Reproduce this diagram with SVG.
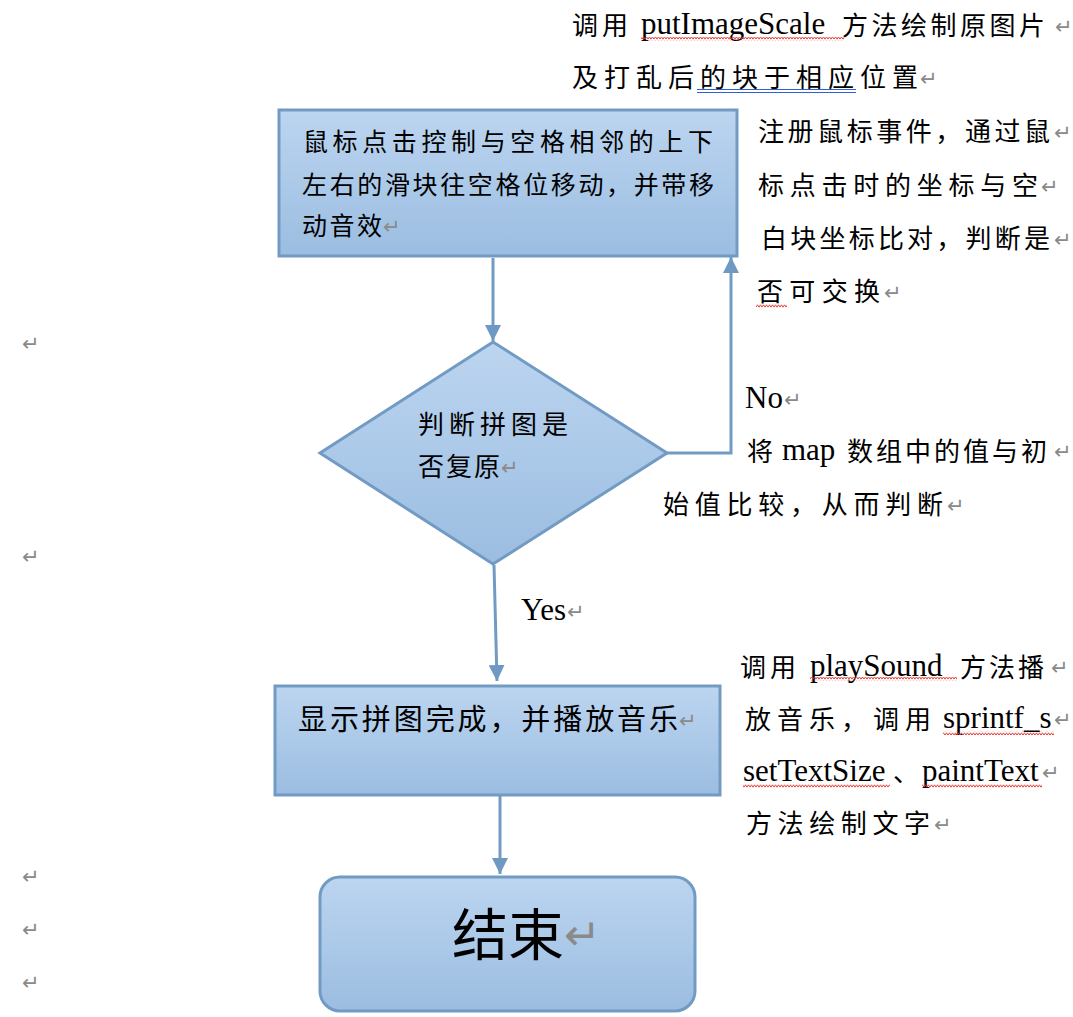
<svg xmlns="http://www.w3.org/2000/svg" width="1073" height="1017" viewBox="0 0 1073 1017">
<defs>
<linearGradient id="g" x1="0" y1="0" x2="0" y2="1">
<stop offset="0" stop-color="#bcd5f0"/>
<stop offset="1" stop-color="#9bbde1"/>
</linearGradient>
<marker id="ah" markerUnits="userSpaceOnUse" markerWidth="16" markerHeight="16" viewBox="0 0 16 16" refX="16" refY="8" orient="auto">
<path d="M0,0 L16,8 L0,16 Z" fill="#6f98c2"/>
</marker>
<pattern id="wave" width="6" height="4" patternUnits="userSpaceOnUse">
<path d="M0,3.2 L1.5,0.8 L3,3.2 L4.5,0.8 L6,3.2" fill="none" stroke="#e8302a" stroke-width="0.9"/>
</pattern>
</defs>
<style>
.shape{fill:url(#g);stroke:#729bc4;stroke-width:3}
.conn{fill:none;stroke:#729bc4;stroke-width:3}
.t{font-family:"Liberation Serif","Noto Sans CJK SC",serif;font-size:26px;fill:#000}
.bx{font-size:25px}
.b2{font-size:29px}
.big{font-size:56px}
.lat{font-family:"Liberation Serif",serif;font-size:31px}
.cj{letter-spacing:4px}
.pm{font-family:"DejaVu Sans",sans-serif;font-size:21px;fill:#8a8a8a}
.pmb{font-size:44px}
.wv{fill:url(#wave)}
</style>
<rect width="1073" height="1017" fill="#ffffff"/>

<g id="connectors">
<line class="conn" x1="493" y1="258" x2="493" y2="341" marker-end="url(#ah)"/>
<polyline class="conn" points="667,453 731,453 731,257" marker-end="url(#ah)"/>
<line class="conn" x1="494" y1="565" x2="497" y2="681" marker-end="url(#ah)"/>
<line class="conn" x1="500" y1="796" x2="500" y2="874" marker-end="url(#ah)"/>
</g>

<g id="node-move">
<rect class="shape" x="279" y="110" width="458" height="146"/>
<text class="t bx" x="303" y="151" textLength="410" lengthAdjust="spacing">鼠标点击控制与空格相邻的上下</text>
<text class="t bx" x="302" y="194" textLength="412" lengthAdjust="spacing">左右的滑块往空格位移动，并带移</text>
<text class="t bx" x="302" y="235" textLength="80" lengthAdjust="spacing">动音效</text>
<text class="pm" x="383" y="234">↵</text>
</g>

<g id="node-judge">
<polygon class="shape" points="493,342 667,453 493,564 320,453"/>
<text class="t" x="418" y="434" textLength="150" lengthAdjust="spacing">判断拼图是</text>
<text class="t" x="418" y="476" textLength="82" lengthAdjust="spacing">否复原</text>
<text class="pm" x="501" y="475">↵</text>
</g>

<g id="node-done">
<rect class="shape" x="275" y="686" width="445" height="109"/>
<text class="t b2" x="298" y="730" textLength="380" lengthAdjust="spacing">显示拼图完成，并播放音乐</text>
<text class="pm" x="679" y="728">↵</text>
</g>

<g id="node-end">
<rect class="shape" x="320" y="877" width="375" height="134" rx="20" ry="20"/>
<text class="t big" x="452" y="955">结束</text>
<text class="pm pmb" x="564" y="950">↵</text>
</g>

<g id="note-top">
<text class="t" y="35"><tspan class="cj" x="572">调用</tspan><tspan class="lat" x="641" dy="-1">putImageScale</tspan><tspan x="842" dy="1" style="letter-spacing:3.5px">方法绘制原图片</tspan></text>
<text class="pm" x="1055" y="34">↵</text>
<rect class="wv" x="641" y="37" width="203" height="4"/>
<text class="t" x="572" y="87" textLength="346" lengthAdjust="spacing">及打乱后的块于相应位置</text>
<text class="pm" x="920" y="86">↵</text>
<line x1="697" y1="89.5" x2="856" y2="89.5" stroke="#2f5fd0" stroke-width="1"/>
<line x1="697" y1="92.5" x2="856" y2="92.5" stroke="#2f5fd0" stroke-width="1"/>
</g>

<g id="note-mouse">
<text class="t" x="758" y="141" textLength="292" lengthAdjust="spacing">注册鼠标事件，通过鼠</text>
<text class="pm" x="1054" y="140">↵</text>
<text class="t" x="758" y="195" textLength="280" lengthAdjust="spacing">标点击时的坐标与空</text>
<text class="pm" x="1041" y="194">↵</text>
<text class="t" x="761" y="248" textLength="289" lengthAdjust="spacing">白块坐标比对，判断是</text>
<text class="pm" x="1054" y="247">↵</text>
<text class="t" x="757" y="301" textLength="123" lengthAdjust="spacing">否可交换</text>
<text class="pm" x="884" y="300">↵</text>
<rect class="wv" x="756" y="304" width="31" height="4"/>
</g>

<g id="note-no">
<text class="t lat" x="745" y="408">No</text>
<text class="pm" x="784" y="407">↵</text>
<text class="t" y="461"><tspan x="747">将</tspan><tspan class="lat" x="782" dy="-1">map</tspan><tspan x="847" dy="1" style="letter-spacing:3px">数组中的值与初</tspan></text>
<text class="pm" x="1054" y="459">↵</text>
<text class="t" x="663" y="514" textLength="280" lengthAdjust="spacing">始值比较，从而判断</text>
<text class="pm" x="947" y="513">↵</text>
</g>

<g id="note-yes">
<text class="t lat" x="521" y="620">Yes</text>
<text class="pm" x="567" y="619">↵</text>
</g>

<g id="note-sound">
<text class="t" y="677"><tspan class="cj" x="740">调用</tspan><tspan class="lat" x="810" dy="-1">playSound</tspan><tspan x="960" dy="1" style="letter-spacing:3px">方法播</tspan></text>
<text class="pm" x="1051" y="675">↵</text>
<rect class="wv" x="810" y="677" width="147" height="4"/>
<text class="t" y="729"><tspan x="745" style="letter-spacing:6px">放音乐，调用</tspan><tspan class="lat" x="943" dy="-1">sprintf_s</tspan></text>
<text class="pm" x="1054" y="727">↵</text>
<rect class="wv" x="943" y="731" width="111" height="4"/>
<text class="t" y="781"><tspan class="lat" x="743">setTextSize</tspan><tspan x="893" dy="1">、</tspan><tspan class="lat" x="922" dy="-1">paintText</tspan></text>
<text class="pm" x="1042" y="780">↵</text>
<rect class="wv" x="743" y="784" width="147" height="4"/>
<rect class="wv" x="922" y="784" width="120" height="4"/>
<text class="t" x="746" y="833" textLength="184" lengthAdjust="spacing">方法绘制文字</text>
<text class="pm" x="934" y="832">↵</text>
</g>

<g id="margin-marks">
<text class="pm" x="22" y="351">↵</text>
<text class="pm" x="22" y="564">↵</text>
<text class="pm" x="22" y="884">↵</text>
<text class="pm" x="22" y="937">↵</text>
<text class="pm" x="22" y="990">↵</text>
</g>
</svg>
